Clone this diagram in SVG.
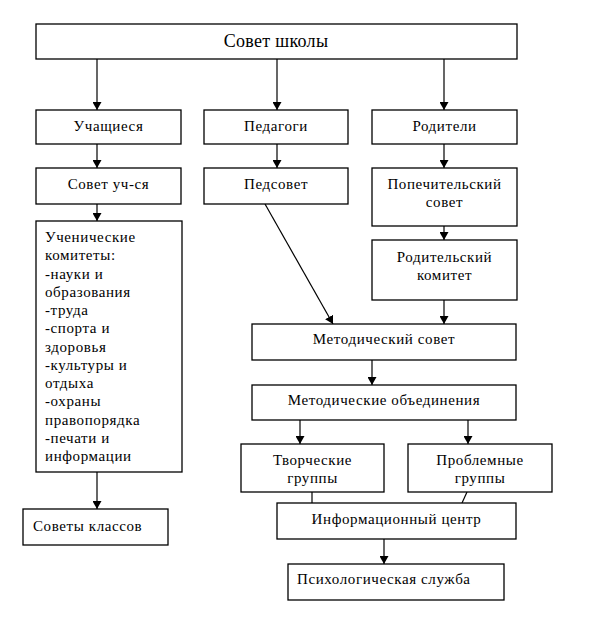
<svg xmlns="http://www.w3.org/2000/svg" width="601" height="620" viewBox="0 0 601 620" font-family="Liberation Serif, Times New Roman, serif">
<defs>
<marker id="ah" markerUnits="userSpaceOnUse" markerWidth="8" markerHeight="9" refX="8" refY="4.5" orient="auto">
<path d="M0,0 L8,4.5 L0,9 z" fill="#000"/>
</marker>
<style>
rect{fill:#fff;stroke:#000;stroke-width:1.3}
text{font-size:15px;fill:#000;letter-spacing:0.6px}
.c{text-anchor:middle}
.big{font-size:18px;letter-spacing:0.3px}
#connectors line{stroke:#000;stroke-width:1.2}
.a{marker-end:url(#ah)}
.thin{stroke-width:0.9}
</style>
</defs>
<rect x="0" y="0" width="601" height="620" style="fill:#fff;stroke:none"/>
<g id="connectors">
<line class="a" x1="97" y1="59" x2="97" y2="110"/>
<line class="a" x1="277" y1="59" x2="277" y2="110"/>
<line class="a" x1="444" y1="59" x2="444" y2="110"/>
<line class="a" x1="97" y1="144" x2="97" y2="168"/>
<line class="a" x1="277" y1="144" x2="277" y2="168"/>
<line class="a" x1="444" y1="144" x2="444" y2="168"/>
<line class="a" x1="97" y1="204" x2="97" y2="221"/>
<line class="a" x1="97" y1="472" x2="97" y2="509"/>
<line class="a thin" x1="265" y1="204" x2="333" y2="324"/>
<line class="a" x1="444" y1="226" x2="444" y2="240"/>
<line class="a" x1="444" y1="300" x2="444" y2="324"/>
<line class="a" x1="372" y1="360" x2="372" y2="385"/>
<line class="a" x1="300" y1="420" x2="300" y2="444"/>
<line class="a" x1="468" y1="420" x2="468" y2="444"/>
<line x1="312" y1="492" x2="312" y2="503"/>
<line class="thin" x1="467" y1="492" x2="462" y2="503"/>
<line class="a" x1="384" y1="539" x2="384" y2="564"/>
</g>
<g id="sovet-shkoly"><rect x="36" y="24" width="481" height="35"/><text class="c big" x="276" y="47" font-family="Liberation Serif, serif">Совет школы</text></g>
<g id="uchashchiesya"><rect x="36" y="110" width="145" height="34"/><text class="c" x="108.5" y="131">Учащиеся</text></g>
<g id="pedagogi"><rect x="204" y="110" width="144" height="34"/><text class="c" x="276" y="131">Педагоги</text></g>
<g id="roditeli"><rect x="372" y="110" width="145" height="34"/><text class="c" x="444.5" y="131">Родители</text></g>
<g id="sovet-uch"><rect x="36" y="168" width="145" height="36"/><text class="c" x="108.5" y="189">Совет уч-ся</text></g>
<g id="pedsovet"><rect x="204" y="168" width="144" height="36"/><text class="c" x="276" y="189">Педсовет</text></g>
<g id="popechitelsky"><rect x="372" y="168" width="145" height="58"/><text class="c" x="444.5" y="189">Попечительский</text><text class="c" x="444.5" y="207">совет</text></g>
<g id="uchenicheskie"><rect x="36" y="221" width="146" height="251"/>
<text x="45" y="242">Ученические</text>
<text x="45" y="260">комитеты:</text>
<text x="45" y="278.5">-науки и</text>
<text x="45" y="297">образования</text>
<text x="45" y="315">-труда</text>
<text x="45" y="333">-спорта и</text>
<text x="45" y="351.5">здоровья</text>
<text x="45" y="370">-культуры и</text>
<text x="45" y="388">отдыха</text>
<text x="45" y="406">-охраны</text>
<text x="45" y="424.5">правопорядка</text>
<text x="45" y="443">-печати и</text>
<text x="45" y="461">информации</text>
</g>
<g id="sovety-klassov"><rect x="23" y="509" width="145" height="36"/><text x="33" y="531">Советы классов</text></g>
<g id="roditelsky"><rect x="372" y="240" width="145" height="60"/><text class="c" x="444.5" y="262">Родительский</text><text class="c" x="444.5" y="280">комитет</text></g>
<g id="metod-sovet"><rect x="252" y="324" width="264" height="36"/><text class="c" x="384" y="344">Методический совет</text></g>
<g id="metod-ob"><rect x="252" y="385" width="264" height="35"/><text class="c" x="384" y="405">Методические объединения</text></g>
<g id="tvorcheskie"><rect x="241" y="444" width="143" height="48"/><text class="c" x="312.5" y="465">Творческие</text><text class="c" x="312.5" y="483">группы</text></g>
<g id="problemnye"><rect x="408" y="444" width="144" height="48"/><text class="c" x="480" y="465">Проблемные</text><text class="c" x="480" y="483">группы</text></g>
<g id="info-centr"><rect x="277" y="503" width="239" height="36"/><text class="c" x="396.5" y="524">Информационный центр</text></g>
<g id="psih"><rect x="288" y="564" width="216" height="36"/><text x="297" y="584">Психологическая служба</text></g>
</svg>
